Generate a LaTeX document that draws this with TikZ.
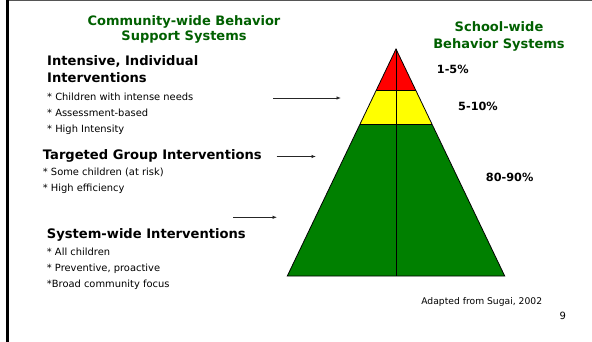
\documentclass[tikz,border=0pt]{standalone}
\usepackage{fontspec}
\setmainfont{DejaVu Sans}
\usetikzlibrary{arrows.meta}
\definecolor{titlegreen}{RGB}{0,96,0}
\definecolor{pyrred}{RGB}{255,0,0}
\definecolor{pyryellow}{RGB}{255,255,0}
\definecolor{pyrgreen}{RGB}{0,128,0}
\definecolor{framegray}{RGB}{85,85,85}
\begin{document}
\begin{tikzpicture}[x=1pt,y=-1pt,
  titletext/.style={font=\fontsize{13}{15}\selectfont\bfseries, text=titlegreen, inner sep=0pt, anchor=base},
  headtext/.style={font=\fontsize{13.1}{16}\selectfont\bfseries, inner sep=0pt, anchor=base west},
  bullettext/.style={font=\fontsize{9.9}{14}\selectfont, inner sep=0pt, anchor=base west},
  pcttext/.style={font=\fontsize{11.3}{13}\selectfont\bfseries, inner sep=0pt, anchor=base west},
  notetext/.style={font=\fontsize{9.2}{10}\selectfont, inner sep=0pt},
  pointer/.style={draw=black!85, line width=0.8pt, -{Latex[length=4.5pt,width=3.5pt]}},
  pyredge/.style={draw=black, line width=0.8pt}]
\useasboundingbox (0,0) rectangle (592,342);
\fill[white] (0,0) rectangle (592,342);
% frame
\fill[black] (6,0) rectangle (9,342);
\fill[framegray] (9,0) rectangle (592,1.5);

% pyramid
\coordinate (apex) at (396,49);
\coordinate (bl) at (287.3,276);
\coordinate (br) at (504.7,276);
\coordinate (bm) at (396,276);
\coordinate (ryl) at (376.2,90.5);
\coordinate (ryr) at (415.8,90.5);
\coordinate (ygl) at (359.9,124.7);
\coordinate (ygr) at (432.1,124.7);
\fill[pyrred] (apex) -- (ryl) -- (ryr) -- cycle;
\fill[pyryellow] (ryl) -- (ygl) -- (ygr) -- (ryr) -- cycle;
\fill[pyrgreen] (ygl) -- (bl) -- (br) -- (ygr) -- cycle;
\draw[pyredge] (ryl) -- (ryr);
\draw[pyredge] (ygl) -- (ygr);
\draw[pyredge] (apex) -- (bm);
\draw[pyredge, line join=miter] (apex) -- (bl) -- (br) -- cycle;

% titles
\node[titletext] (lt1) at (184,26) {Community-wide Behavior};
\node[titletext] (lt2) at (184,41) {Support Systems};
\node[titletext] (rt1) at (499,32) {School-wide};
\node[titletext] (rt2) at (499,48.5) {Behavior Systems};

% left column
\node[headtext] (h1a) at (47,66) {Intensive, Individual};
\node[headtext] (h1b) at (47,82.7) {Interventions};
\node[bullettext] (b11) at (47,101) {* Children with intense needs};
\node[bullettext] (b12) at (47,116.7) {* Assessment-based};
\node[bullettext] (b13) at (47,132.3) {* High Intensity};

\node[headtext] (h2) at (42.7,160) {Targeted Group Interventions};
\node[bullettext] (b21) at (42.7,175.7) {* Some children (at risk)};
\node[bullettext] (b22) at (42.7,191.7) {* High efficiency};

\node[headtext] (h3) at (46.7,238.3) {System-wide Interventions};
\node[bullettext] (b31) at (46.7,255.7) {* All children};
\node[bullettext] (b32) at (46.7,271.7) {* Preventive, proactive};
\node[bullettext] (b33) at (46.7,287.3) {*Broad community focus};

% percentages
\node[pcttext] (p1) at (436.7,74) {1-5\%};
\node[pcttext] (p2) at (458,111) {5-10\%};
\node[pcttext] (p3) at (485.7,181.7) {80-90\%};

% notes
\node[notetext, anchor=base east] (src) at (542.3,304) {Adapted from Sugai, 2002};
\node[notetext, anchor=base west, font=\fontsize{10}{11}\selectfont] (pg) at (559.3,319.3) {9};

% pointers
\coordinate (a1s) at (273,98);
\coordinate (a1e) at (341,98);
\coordinate (a2s) at (276.7,156.5);
\coordinate (a2e) at (316,156.5);
\coordinate (a3s) at (233.3,217.3);
\coordinate (a3e) at (277,217.3);
\draw[pointer] (a1s) -- (a1e);
\draw[pointer] (a2s) -- (a2e);
\draw[pointer] (a3s) -- (a3e);
\end{tikzpicture}
\end{document}
